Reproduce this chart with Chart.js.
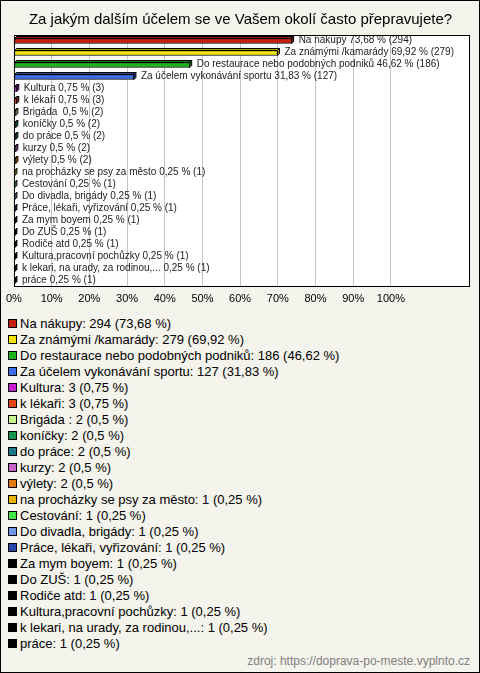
<!DOCTYPE html>
<html lang="cs">
<head>
<meta charset="utf-8">
<title>Za jakým dalším účelem se ve Vašem okolí často přepravujete?</title>
<script src="https://cdn.jsdelivr.net/npm/chart.js@4/dist/chart.umd.min.js"></script>
<style>
    html, body { margin: 0; padding: 0; }
    body { width: 480px; height: 673px; overflow: hidden; font-family: Arial, "Liberation Sans", sans-serif; }
    #box {
        position: absolute; left: 0; top: 0;
        width: 480px; height: 673px; box-sizing: border-box;
        border: 1px solid #000; background: #f4f3ec;
    }
    #chart { position: absolute; left: 0; top: 0; }
    #legend { position: absolute; left: 7px; top: 314px; }
    .item { display: flex; align-items: center; height: 16px; font-size: 13px; color: #000; white-space: pre; }
    .swatch { width: 7px; height: 7px; border: 1px solid #000; margin-right: 3px; }
    #source { position: absolute; right: 9px; top: 653px; font-size: 12px; color: #808080; }
</style>
</head>
<body>
<div id="box">
    <canvas id="chart" width="478" height="310"></canvas>
    <div id="legend"></div>
    <div id="source">zdroj: https://doprava-po-meste.vyplnto.cz</div>
</div>
<script>
// --- Data ---
const chartTitle = 'Za jakým dalším účelem se ve Vašem okolí často přepravujete?';
const categories = [
    'Na nákupy', 'Za známými /kamarády', 'Do restaurace nebo podobných podniků',
    'Za účelem vykonávání sportu', 'Kultura', 'k lékaři', 'Brigáda ', 'koníčky',
    'do práce', 'kurzy', 'výlety', 'na procházky se psy za město', 'Cestování',
    'Do divadla, brigády', 'Práce, lékaři, vyřizování', 'Za mym boyem', 'Do ZUŠ',
    'Rodiče atd', 'Kultura,pracovní pochůzky', 'k lekari, na urady, za rodinou,...', 'práce'
];
const counts = [294, 279, 186, 127, 3, 3, 2, 2, 2, 2, 2, 1, 1, 1, 1, 1, 1, 1, 1, 1, 1];
const percents = [73.68, 69.92, 46.62, 31.83, 0.75, 0.75, 0.5, 0.5, 0.5, 0.5, 0.5,
    0.25, 0.25, 0.25, 0.25, 0.25, 0.25, 0.25, 0.25, 0.25, 0.25];
const colors = [
    '#c4200c', '#f2e200', '#1cb41c', '#3c6ee6', '#c81ed2', '#e44614', '#c8f58c',
    '#149650', '#1e788c', '#c864c8', '#e67814', '#e6b400', '#46e646', '#6e96e6',
    '#2846aa', '#000000', '#000000', '#000000', '#000000', '#000000', '#000000'
];
const tickValues = [0, 10, 20, 30, 40, 50, 60, 70, 80, 90, 100];

const DEPTH = 2; // fake 3D offset of the bars

function czNum(v) {
    return v.toString().replace('.', ',');
}

function darker(hex, f) {
    const n = parseInt(hex.slice(1), 16);
    const r = Math.round(((n >> 16) & 255) * f);
    const g = Math.round(((n >> 8) & 255) * f);
    const b = Math.round((n & 255) * f);
    return `rgb(${r},${g},${b})`;
}

// white plot background + black frame
const framePlugin = {
    id: 'frame',
    beforeDraw(chart) {
        const a = chart.chartArea;
        const c = chart.ctx;
        c.save();
        c.fillStyle = '#ffffff';
        c.fillRect(a.left, a.top, a.right - a.left, a.bottom - a.top);
        c.restore();
    },
    afterDraw(chart) {
        const a = chart.chartArea;
        const c = chart.ctx;
        c.save();
        c.strokeStyle = '#000';
        c.lineWidth = 1;
        c.strokeRect(a.left + 0.5, a.top + 0.5, a.right - a.left - 1, a.bottom - a.top - 1);
        c.restore();
    }
};

// depth faces of the bars and the value labels
const barExtrasPlugin = {
    id: 'barExtras',
    afterDatasetsDraw(chart) {
        const c = chart.ctx;
        const meta = chart.getDatasetMeta(0);
        c.save();
        meta.data.forEach((bar, i) => {
            const top = bar.y - bar.height / 2;
            const bottom = bar.y + bar.height / 2;
            c.lineWidth = 1;
            c.strokeStyle = '#000';
            c.fillStyle = darker(colors[i], 0.7);
            // top face
            c.beginPath();
            c.moveTo(bar.base, top);
            c.lineTo(bar.base + DEPTH, top - DEPTH);
            c.lineTo(bar.x + DEPTH, top - DEPTH);
            c.lineTo(bar.x, top);
            c.closePath();
            c.fill();
            c.stroke();
            // right face
            c.beginPath();
            c.moveTo(bar.x, top);
            c.lineTo(bar.x + DEPTH, top - DEPTH);
            c.lineTo(bar.x + DEPTH, bottom - DEPTH);
            c.lineTo(bar.x, bottom);
            c.closePath();
            c.fill();
            c.stroke();

            c.fillStyle = '#222';
            c.font = '10px Arial, "Liberation Sans", sans-serif';
            c.textBaseline = 'middle';
            c.textAlign = 'left';
            const label = categories[i] + ' ' + czNum(percents[i]) + ' % (' + counts[i] + ')';
            c.fillText(label, bar.x + DEPTH + 5, bar.y - 0.5);
        });
        c.restore();
    }
};

const ctx = document.getElementById('chart').getContext('2d');
new Chart(ctx, {
    type: 'bar',
    data: {
        labels: categories,
        datasets: [{
            data: percents,
            backgroundColor: colors,
            borderColor: '#000',
            borderWidth: 1,
            borderSkipped: false,
            barThickness: 5
        }]
    },
    options: {
        indexAxis: 'y',
        responsive: false,
        animation: false,
        layout: { padding: { left: 10, right: 9, top: 0, bottom: 4 } },
        plugins: {
            legend: { display: false },
            tooltip: { enabled: false },
            title: {
                display: true,
                text: chartTitle,
                color: '#000',
                font: { family: 'Arial, "Liberation Sans", sans-serif', size: 15, weight: 'normal' },
                padding: { top: 10, bottom: 6 }
            }
        },
        scales: {
            x: {
                min: 0,
                max: 121,
                afterBuildTicks: (scale) => {
                    scale.ticks = tickValues.map(v => ({ value: v }));
                },
                afterFit: (scale) => { scale.height = 20; },
                ticks: {
                    color: '#000',
                    font: { family: 'Arial, "Liberation Sans", sans-serif', size: 11 },
                    padding: 5,
                    maxRotation: 0,
                    autoSkip: false,
                    callback: (v) => v + '%'
                },
                grid: {
                    color: (c) => (c.tick && c.tick.value === 0) ? 'rgba(0,0,0,0)' : '#c4c4c4',
                    drawTicks: false
                },
                border: { display: false }
            },
            y: { display: false }
        }
    },
    plugins: [framePlugin, barExtrasPlugin]
});

// --- Legend below the chart ---
const legend = document.getElementById('legend');
categories.forEach((cat, i) => {
    const row = document.createElement('div');
    row.className = 'item';
    const sw = document.createElement('span');
    sw.className = 'swatch';
    sw.style.background = colors[i];
    const txt = document.createElement('span');
    txt.textContent = cat + ': ' + counts[i] + ' (' + czNum(percents[i]) + ' %)';
    row.appendChild(sw);
    row.appendChild(txt);
    legend.appendChild(row);
});
</script>
</body>
</html>
